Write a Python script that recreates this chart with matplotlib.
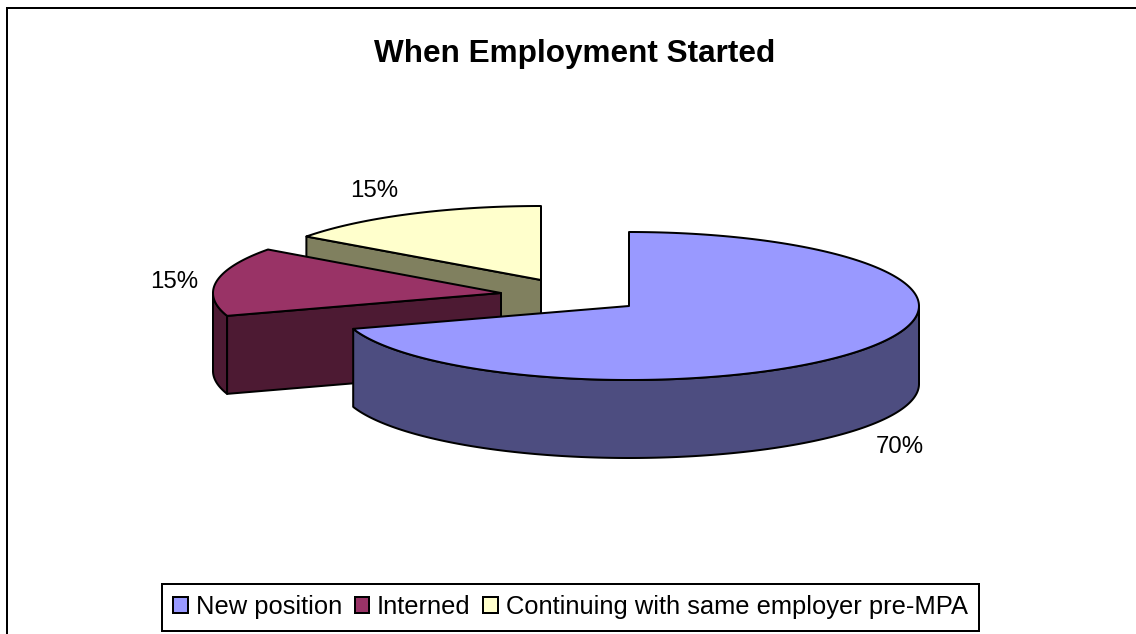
"""When Employment Started: exploded 3D-look pie, drawn in pixel coordinates."""
import numpy as np
import matplotlib
matplotlib.use("Agg")
import matplotlib.pyplot as plt
from matplotlib.patches import Polygon, Rectangle

plt.rcParams["font.family"] = ["Liberation Sans", "DejaVu Sans"]

categories = ["New position", "Interned", "Continuing with same employer pre-MPA"]
shares = [70, 15, 15]
share_labels = ["70%", "15%", "15%"]
top_colors = ["#9999FF", "#993366", "#FFFFCC"]
side_colors = ["#4D4D80", "#4D1A33", "#80805F"]

# wedge apex positions (exploded), ellipse radii and wall depth, in pixels
apex = [(629, 306), (501, 293), (541, 280)]
radius_x = [290, 288, 290]
label_pos = [(900, 447), (174, 282), (374, 191)]
RY, DEPTH = 74, 78
LW = 1.44

fig = plt.figure(figsize=(11.36, 6.34), dpi=100)
ax = fig.add_axes([0, 0, 1, 1])
ax.set_xlim(0, 1136)
ax.set_ylim(634, 0)
ax.axis("off")


def rim(center, rx, a0, a1):
    # a0, a1 are degrees clockwise from 12 o'clock
    t = np.radians(np.linspace(a0, a1, 200))
    return np.column_stack([center[0] + rx * np.sin(t), center[1] - RY * np.cos(t)])


def wall(pts):
    down = pts + [0, DEPTH]
    return np.vstack([pts, down[::-1]])


def add_poly(pts, color, z):
    ax.add_patch(Polygon(pts, closed=True, facecolor=color, edgecolor="black",
                         lw=LW, joinstyle="round", zorder=z))


edges = np.concatenate([[0], np.cumsum(shares)]) * 360.0 / sum(shares)

# back to front: yellow, red, blue
for i in [2, 1, 0]:
    a0, a1 = edges[i], edges[i + 1]
    c = np.array(apex[i], dtype=float)
    rx = radius_x[i]
    z = 3 - i
    # outer wall: only the front half of the rim (90..270 degrees) shows
    lo, hi = max(a0, 90), min(a1, 270)
    if lo < hi:
        add_poly(wall(rim(c, rx, lo, hi)), side_colors[i], z)
    # cut face on the closing edge of a back wedge
    if i > 0:
        add_poly(wall(np.array([rim(c, rx, a0, a0)[0], c])), side_colors[i], z)
    add_poly(np.vstack([[c], rim(c, rx, a0, a1)]), top_colors[i], z)

for pos, txt in zip(label_pos, share_labels):
    ax.text(pos[0], pos[1], txt, fontsize=17.3, ha="center", va="center", color="black")

ax.text(575, 54, "When Employment Started", fontsize=22.7, fontweight="bold",
        ha="center", va="center", color="black")

# chart frame: only the top and left edges are inside the picture
ax.plot([7, 7, 1136], [634, 8, 8], color="black", lw=LW,
        solid_joinstyle="miter", zorder=5)

handles = [Rectangle((0, 0), 1, 1, facecolor=col, edgecolor="black", lw=LW)
           for col in top_colors]
leg = ax.legend(handles, categories, loc="center", bbox_to_anchor=(570.5, 607),
                bbox_transform=ax.transData, ncol=3, fontsize=18.4, fancybox=False,
                framealpha=1, edgecolor="black", handlelength=0.58, handleheight=0.58,
                handletextpad=0.3, columnspacing=0.5, borderpad=0.45, borderaxespad=0)
leg.get_frame().set_linewidth(LW)
leg.set_zorder(6)

fig.savefig("out.png", dpi=100, facecolor="white")
